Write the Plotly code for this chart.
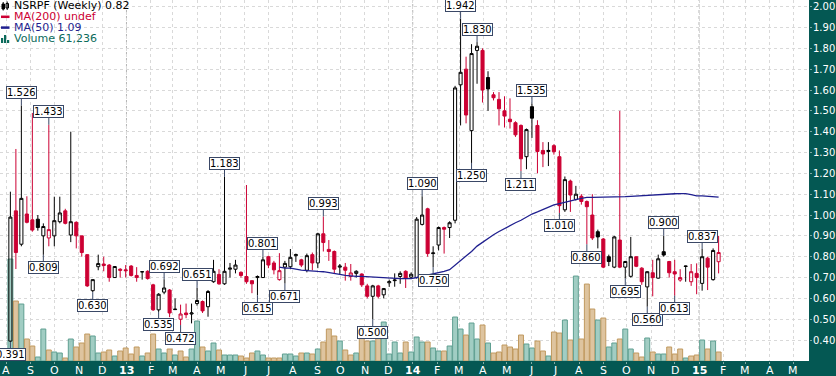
import pandas as pd
import plotly.graph_objects as go

# ---------------- data ----------------
weeks = pd.date_range("2012-08-06", periods=130, freq="7D")

opens = [0.395, 1.020, 0.860, 1.005, 0.977, 0.980, 0.900, 0.890, 0.900, 0.968,
         1.020, 0.904, 0.965, 0.900, 0.810, 0.637, 0.752, 0.765, 0.760, 0.700,
         0.740, 0.737, 0.755, 0.710, 0.727, 0.730, 0.665, 0.545, 0.630, 0.640,
         0.546, 0.500, 0.530, 0.525, 0.575, 0.585, 0.560, 0.680, 0.715, 0.670,
         0.740, 0.740, 0.725, 0.705, 0.685, 0.700, 0.700, 0.800, 0.770, 0.690,
         0.750, 0.752, 0.805, 0.785, 0.735, 0.810, 0.770, 0.910, 0.835, 0.825,
         0.750, 0.750, 0.705, 0.720, 0.717, 0.660, 0.610, 0.660, 0.617, 0.675,
         0.685, 0.705, 0.730, 0.702, 0.700, 0.955, 1.030, 0.815, 0.856, 0.940,
         0.940, 0.975, 1.625, 1.700, 1.405, 1.790, 1.790, 1.660, 1.577, 1.555,
         1.500, 1.460, 1.443, 1.430, 1.280, 1.520, 1.430, 1.310, 1.305, 1.333,
         1.280, 1.025, 1.163, 1.075, 1.090, 1.065, 1.000, 0.920, 0.885, 0.800,
         0.750, 0.880, 0.750, 0.706, 0.800, 0.745, 0.655, 0.723, 0.697, 0.824,
         0.777, 0.728, 0.688, 0.753, 0.680, 0.720, 0.672, 0.793, 0.690, 0.776]
highs = [1.112, 1.317, 1.526, 1.090, 1.490, 1.000, 0.960, 1.433, 1.088, 1.088,
         1.030, 1.400, 0.970, 0.900, 0.810, 0.691, 0.810, 0.800, 0.765, 0.755,
         0.745, 0.760, 0.760, 0.750, 0.730, 0.735, 0.670, 0.625, 0.692, 0.645,
         0.600, 0.570, 0.575, 0.575, 0.651, 0.590, 0.640, 0.785, 0.740, 1.183,
         0.770, 0.785, 0.730, 1.144, 0.685, 0.710, 0.801, 0.805, 0.780, 0.817,
         0.780, 0.837, 0.815, 0.790, 0.815, 0.820, 0.915, 0.993, 0.880, 0.830,
         0.765, 0.770, 0.765, 0.735, 0.720, 0.670, 0.665, 0.665, 0.650, 0.690,
         0.720, 0.730, 0.735, 0.725, 0.990, 1.090, 1.035, 0.850, 0.945, 0.945,
         0.970, 1.620, 1.942, 1.760, 1.820, 1.830, 1.800, 1.690, 1.590, 1.590,
         1.570, 1.560, 1.450, 1.435, 1.415, 1.535, 1.455, 1.350, 1.350, 1.340,
         1.310, 1.185, 1.170, 1.140, 1.100, 1.070, 1.100, 0.930, 0.890, 0.810,
         0.900, 1.500, 0.780, 0.895, 0.800, 0.750, 0.730, 0.785, 0.810, 0.900,
         0.780, 0.785, 0.740, 0.757, 0.765, 0.768, 0.837, 0.800, 0.840, 0.900]
lows = [0.391, 0.741, 0.850, 0.960, 0.920, 0.925, 0.809, 0.850, 0.850, 0.960,
        0.955, 0.870, 0.840, 0.800, 0.655, 0.630, 0.735, 0.730, 0.680, 0.700,
        0.700, 0.700, 0.705, 0.680, 0.690, 0.690, 0.540, 0.535, 0.620, 0.510,
        0.545, 0.472, 0.505, 0.480, 0.565, 0.530, 0.512, 0.675, 0.665, 0.665,
        0.700, 0.720, 0.700, 0.670, 0.625, 0.615, 0.700, 0.745, 0.715, 0.685,
        0.671, 0.740, 0.775, 0.750, 0.725, 0.735, 0.745, 0.825, 0.780, 0.720,
        0.715, 0.685, 0.685, 0.700, 0.655, 0.600, 0.500, 0.600, 0.600, 0.655,
        0.656, 0.670, 0.650, 0.695, 0.695, 0.950, 0.800, 0.750, 0.830, 0.815,
        0.890, 0.960, 1.430, 1.440, 1.250, 1.630, 1.540, 1.500, 1.550, 1.430,
        1.420, 1.415, 1.375, 1.211, 1.220, 1.370, 1.200, 1.230, 1.235, 1.290,
        1.010, 1.015, 1.015, 1.070, 1.050, 0.860, 0.880, 0.840, 0.745, 0.755,
        0.745, 0.745, 0.695, 0.700, 0.750, 0.665, 0.560, 0.610, 0.695, 0.800,
        0.700, 0.613, 0.680, 0.680, 0.660, 0.620, 0.637, 0.640, 0.685, 0.720]
closes = [0.990, 0.820, 1.080, 0.965, 0.928, 0.940, 0.945, 0.930, 0.973, 1.010,
          0.960, 0.968, 0.900, 0.820, 0.660, 0.690, 0.767, 0.758, 0.700, 0.753,
          0.735, 0.733, 0.710, 0.700, 0.728, 0.695, 0.545, 0.620, 0.650, 0.530,
          0.548, 0.525, 0.522, 0.530, 0.590, 0.540, 0.633, 0.730, 0.670, 0.730,
          0.745, 0.760, 0.710, 0.680, 0.670, 0.705, 0.785, 0.760, 0.737, 0.733,
          0.768, 0.797, 0.810, 0.760, 0.805, 0.770, 0.910, 0.868, 0.825, 0.740,
          0.755, 0.735, 0.722, 0.730, 0.665, 0.610, 0.660, 0.610, 0.647, 0.680,
          0.688, 0.720, 0.697, 0.716, 0.980, 1.000, 0.815, 0.818, 0.940, 0.932,
          0.963, 1.610, 1.685, 1.480, 1.775, 1.810, 1.600, 1.605, 1.563, 1.510,
          1.475, 1.448, 1.385, 1.270, 1.410, 1.465, 1.305, 1.293, 1.310, 1.304,
          1.045, 1.170, 1.096, 1.100, 1.065, 1.040, 0.890, 0.895, 0.750, 0.777,
          0.895, 0.750, 0.777, 0.800, 0.754, 0.680, 0.728, 0.700, 0.790, 0.808,
          0.723, 0.717, 0.700, 0.755, 0.728, 0.700, 0.800, 0.750, 0.830, 0.820]
volumes = [693600, 408000, 387600, 149600, 102000, 27200, 217600, 74800, 61200, 54400,
           20400, 149600, 95200, 122400, 183600, 170000, 54400, 61200, 74800, 34000,
           68000, 88400, 47600, 95200, 34000, 54400, 183600, 81600, 54400, 81600,
           40800, 68000, 27200, 81600, 272000, 95200, 68000, 122400, 74800, 40800,
           40800, 40800, 34000, 20400, 54400, 68000, 40800, 20400, 20400, 20400,
           47600, 47600, 34000, 54400, 54400, 47600, 81600, 129200, 217600, 170000,
           136000, 74800, 40800, 54400, 170000, 136000, 136000, 183600, 265200, 47600,
           129200, 54400, 129200, 61200, 163200, 129200, 129200, 88400, 68000, 68000,
           102000, 299200, 217600, 176800, 258400, 149600, 244800, 122400, 54400, 61200,
           108800, 95200, 81600, 176800, 115600, 88400, 136000, 68000, 34000, 197200,
           190400, 278800, 142800, 578000, 149600, 523600, 353600, 278800, 292400, 95200,
           122400, 149600, 217600, 81600, 54400, 27200, 156400, 61200, 47600, 47600,
           95200, 47600, 81600, 20400, 34000, 40800, 142800, 81600, 136000, 61236]

# peak / trough labels: (week index, which price)
label_points = [(0, "L"), (2, "H"), (6, "L"), (7, "H"), (15, "L"), (27, "L"), (28, "H"),
                (31, "L"), (34, "H"), (39, "H"), (45, "L"), (46, "H"), (50, "L"),
                (57, "H"), (66, "L"), (75, "H"), (77, "L"), (82, "H"), (84, "L"),
                (85, "H"), (93, "L"), (95, "H"), (100, "L"), (105, "L"), (112, "L"),
                (116, "L"), (119, "H"), (121, "L"), (126, "H")]

month_ticks = pd.date_range("2012-08-01", "2015-05-01", freq="MS")
month_text = ["A", "S", "O", "N", "D", "<b>13</b>", "F", "M", "A", "M", "J", "J",
              "A", "S", "O", "N", "D", "<b>14</b>", "F", "M", "A", "M", "J", "J",
              "A", "S", "O", "N", "D", "<b>15</b>", "F", "M", "A", "M"]
year_starts = ["2013-01-01", "2014-01-01", "2015-01-01"]
price_ticks = [round(0.4 + 0.1 * k, 2) for k in range(17)]

ticker = "NSRPF (Weekly)"
ma_period = 50

# ---------------- styling ----------------
RED = "#cc0033"
NAVY = "#1f1f8f"
TEAL_BAND = "#045853"
GRID = "#d9d9d9"
VOL_UP_FILL, VOL_UP_LINE = "#a1cdc3", "#5f9f91"
VOL_DN_FILL, VOL_DN_LINE = "#dec49f", "#c0995f"
PLOT_W, PLOT_H = 809, 361
PX_PER_VOL = 6804.0
FONT = "DejaVu Sans"

n = len(closes)
up = [i == 0 or closes[i] >= closes[i - 1] for i in range(n)]
ma = pd.Series(closes).rolling(ma_period).mean()

fig = go.Figure()

# volume (bottom layer, primary y)
fig.add_trace(go.Bar(
    x=weeks, y=volumes, yaxis="y",
    width=6.3 * 86400000,
    marker=dict(color=[VOL_UP_FILL if u else VOL_DN_FILL for u in up],
                line=dict(color=[VOL_UP_LINE if u else VOL_DN_LINE for u in up], width=1)),
    hoverinfo="skip", showlegend=False))

# candles: black group (close >= prev close), red group (close < prev close)
for grp, col in ((True, "black"), (False, RED)):
    idx = [i for i in range(n) if up[i] == grp]
    fig.add_trace(go.Candlestick(
        x=[weeks[i] for i in idx],
        open=[opens[i] for i in idx], high=[highs[i] for i in idx],
        low=[lows[i] for i in idx], close=[closes[i] for i in idx],
        yaxis="y2", whiskerwidth=0,
        increasing=dict(line=dict(color=col, width=1), fillcolor="rgba(255,255,255,0)"),
        decreasing=dict(line=dict(color=col, width=1), fillcolor=col),
        showlegend=False, hoverinfo="skip"))

fig.add_trace(go.Scatter(x=weeks, y=ma, yaxis="y2", mode="lines",
                         line=dict(color=NAVY, width=1.3), hoverinfo="skip",
                         showlegend=False))

annotations = []
for i, kind in label_points:
    v = highs[i] if kind == "H" else lows[i]
    annotations.append(dict(
        x=weeks[i], y=v, xref="x", yref="y2", text=f"{v:.3f}",
        showarrow=True, arrowhead=0, arrowwidth=1, arrowcolor="#3a4866",
        ax=0, ay=-13 if kind == "H" else 13, standoff=0,
        bgcolor="white", bordercolor="#3a4866", borderwidth=1, borderpad=0,
        font=dict(family=FONT, size=10, color="black")))

# axis tick labels placed in the bands
for d, t in zip(month_ticks, month_text):
    annotations.append(dict(x=d, y=0, xref="x", yref="paper", text=t, showarrow=False,
                            xanchor="center", yanchor="top", yshift=-1,
                            font=dict(family=FONT, size=11, color="white")))
for v in price_ticks:
    annotations.append(dict(x=1, y=v, xref="paper", yref="y2", text=f"{v:.2f}",
                            showarrow=False, xanchor="left", yanchor="middle", xshift=2,
                            font=dict(family=FONT, size=10, color="white")))


def px(x):
    return x / PLOT_W


def py(y):
    return 1 - y / PLOT_H


legend_rows = [(f"{ticker} {closes[-1]:.2f}", "black", 6),
               ("MA(200) undef", RED, 16.8),
               (f"MA({ma_period}) {ma.iloc[-1]:.2f}", NAVY, 27.6),
               (f"Volume {volumes[-1]:,}", "#0b6b5b", 38.4)]
for txt, col, yy in legend_rows:
    annotations.append(dict(x=px(12), y=py(yy), xref="paper", yref="paper",
                            text=txt, showarrow=False, xanchor="left", yanchor="middle",
                            font=dict(family=FONT, size=11, color=col)))

shapes = []
# year separators
for d in year_starts:
    shapes.append(dict(type="line", xref="x", yref="paper", x0=d, x1=d, y0=0, y1=1,
                       line=dict(color="#b5b5b5", width=1, dash="3px,3px"), layer="below"))
# legend icons
shapes += [
    dict(type="rect", xref="paper", yref="paper", x0=px(2), x1=px(4.5), y0=py(9), y1=py(4),
         line=dict(color="black", width=1), fillcolor="black"),
    dict(type="line", xref="paper", yref="paper", x0=px(3.2), x1=px(3.2), y0=py(10.5), y1=py(2),
         line=dict(color="black", width=1)),
    dict(type="rect", xref="paper", yref="paper", x0=px(6), x1=px(8.5), y0=py(8), y1=py(3.5),
         line=dict(color="black", width=1), fillcolor="white"),
    dict(type="line", xref="paper", yref="paper", x0=px(7.2), x1=px(7.2), y0=py(10), y1=py(1.5),
         line=dict(color="black", width=1)),
    dict(type="line", xref="paper", yref="paper", x0=px(1), x1=px(9.5), y0=py(16.8), y1=py(16.8),
         line=dict(color=RED, width=2.5)),
    dict(type="line", xref="paper", yref="paper", x0=px(1), x1=px(9.5), y0=py(27.6), y1=py(27.6),
         line=dict(color=NAVY, width=2.5)),
]
for x0, top in ((1, 38), (4, 35), (7, 40)):
    shapes.append(dict(type="rect", xref="paper", yref="paper", x0=px(x0), x1=px(x0 + 2.2),
                       y0=py(43), y1=py(top), line=dict(width=0), fillcolor="#0b6b5b"))

fig.update_layout(
    width=836, height=376,
    margin=dict(l=0, r=27, t=0, b=15),
    paper_bgcolor=TEAL_BAND, plot_bgcolor="white",
    boxgap=0.2, bargap=0,
    showlegend=False,
    xaxis=dict(type="date",
               range=["2012-07-23 18:00", "2015-05-21 06:00"],
               tickvals=list(month_ticks), ticktext=month_text,
               showticklabels=False, ticks="outside", ticklen=2, tickcolor="#7fa8a3",
               showgrid=True, gridcolor=GRID, griddash="3px,3px",
               zeroline=False, showline=False, automargin=False,
               rangeslider=dict(visible=False), fixedrange=True),
    yaxis=dict(range=[0, PLOT_H * PX_PER_VOL], visible=False, showgrid=False,
               fixedrange=True),
    yaxis2=dict(overlaying="y", side="right", range=[0.2995, 2.032],
                tickvals=price_ticks, showticklabels=False,
                ticks="outside", ticklen=2, tickcolor="#7fa8a3",
                showgrid=True, gridcolor=GRID, griddash="3px,3px",
                zeroline=False, showline=False, automargin=False, fixedrange=True),
    annotations=annotations, shapes=shapes,
)

fig.write_html(
    "out.html",
    config={"displayModeBar": False, "staticPlot": True},
    post_script="document.body.style.margin='0';document.body.style.padding='0';"
                "document.body.style.overflow='hidden';",
)
